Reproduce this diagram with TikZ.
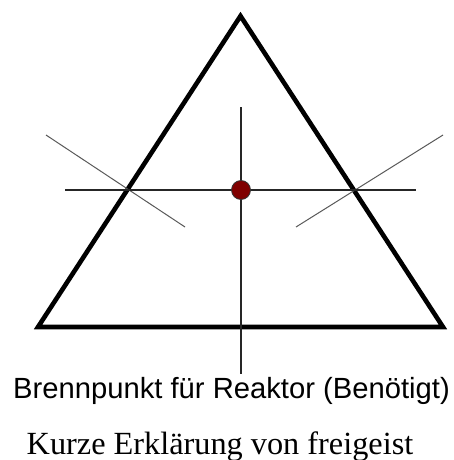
\documentclass[tikz,border=0pt]{standalone}
\usepackage{fontspec}
\newfontfamily\labelfont{Liberation Sans}
\newfontfamily\notefont{Liberation Serif}
\begin{document}
\begin{tikzpicture}[
        x=1pt, y=-1pt,
        edge/.style={line width=4.6pt, line join=miter},
        axis/.style={line width=1.4pt, draw=black!85},
        ray/.style={line width=1pt, draw=black!65},
        focus/.style={circle, draw=black!80, fill=red!50!black,
        line width=0.8pt, minimum size=19pt, inner sep=0pt},
        caption/.style={anchor=base, inner sep=3pt}
      ]
    \useasboundingbox (0,0) rectangle (453,460);
    % triangle
    \coordinate (apex) at (240.5,16);
    \coordinate (left) at (38,327);
    \coordinate (right) at (443,327);
    \draw[edge] (apex) -- (right) -- (left) -- cycle;
    % texts
    \node[caption] (label) at (231.5,398)
    {\labelfont\fontsize{29.2}{34}\selectfont Brennpunkt für Reaktor (Benötigt)};
    \node[caption] (note) at (220,454)
    {\notefont\fontsize{32.3}{36}\selectfont Kurze Erklärung von freigeist};
    % axes and rays
    \coordinate (centre) at (241,190);
    \coordinate (top) at (241,107);
    \coordinate (west) at (65,190);
    \coordinate (east) at (416,190);
    \coordinate (rayA) at (46,135);
    \coordinate (rayB) at (185,227);
    \coordinate (rayC) at (443,135);
    \coordinate (rayD) at (296,227);
    \draw[ray] (rayA) -- (rayB);
    \draw[ray] (rayC) -- (rayD);
    \draw[axis] (west) -- (east);
    \draw[axis] (top) -- (label.north -| centre);
    \node[focus] (focus) at (centre) {};
      \end{tikzpicture}
\end{document}
